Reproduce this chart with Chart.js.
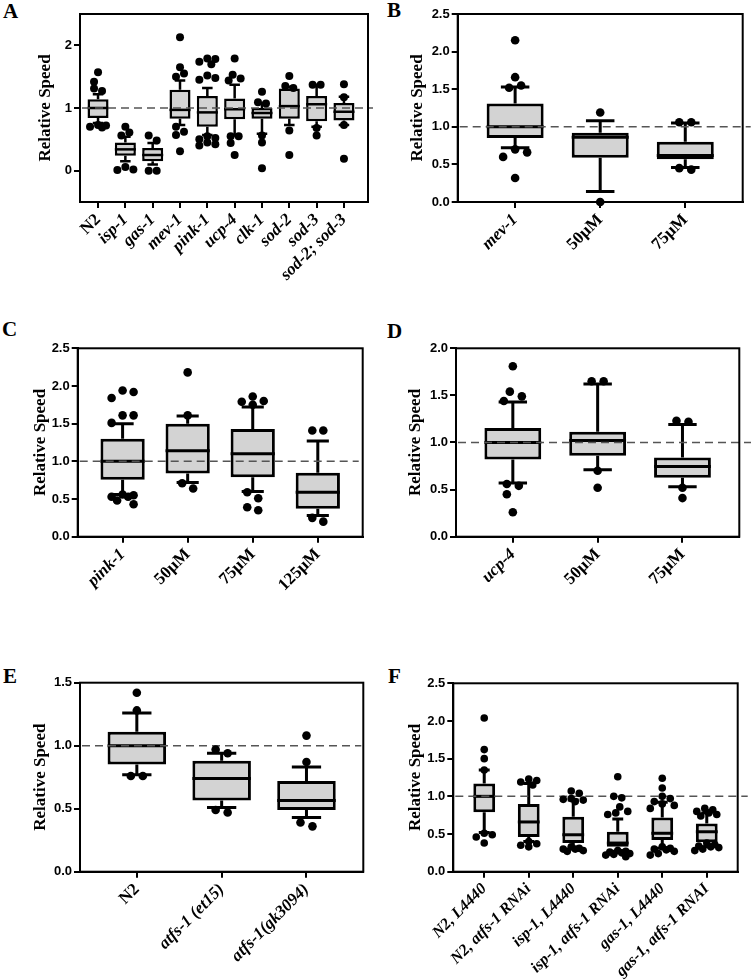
<!DOCTYPE html>
<html>
<head>
<meta charset="utf-8">
<script src="https://cdn.jsdelivr.net/npm/chart.js@4.4.0/dist/chart.umd.min.js"></script>
<style>
  body { margin: 0; background: #fff; width: 751px; height: 980px; position: relative; overflow: hidden; }
  canvas { position: absolute; }
  .lt { position: absolute; font: bold 21px "Liberation Serif"; line-height: 1; color: #000; }
</style>
</head>
<body>

<div class="lt" style="left:3px;top:1px">A</div>
<div class="lt" style="left:387px;top:0px">B</div>
<div class="lt" style="left:2px;top:319px">C</div>
<div class="lt" style="left:387px;top:321px">D</div>
<div class="lt" style="left:3px;top:666px">E</div>
<div class="lt" style="left:388px;top:666px">F</div>

<canvas id="chA"></canvas>
<canvas id="chB"></canvas>
<canvas id="chC"></canvas>
<canvas id="chD"></canvas>
<canvas id="chE"></canvas>
<canvas id="chF"></canvas>

<script>
// ---- data ----
// A
var catsA = ['N2', 'isp-1', 'gas-1', 'mev-1', 'pink-1', 'ucp-4', 'clk-1', 'sod-2', 'sod-3', 'sod-2; sod-3'];
var loA  = [0.76, 0.15, 0.10, 0.73, 0.57, 0.56, 0.59, 0.73, 0.70, 0.73];
var q1A  = [0.84, 0.24, 0.15, 0.83, 0.70, 0.82, 0.83, 0.83, 0.79, 0.80];
var medA = [1.00, 0.34, 0.25, 0.97, 0.93, 0.98, 0.92, 1.03, 1.06, 0.94];
var q3A  = [1.14, 0.45, 0.36, 1.29, 1.19, 1.15, 1.00, 1.31, 1.19, 1.08];
var hiA  = [1.22, 0.54, 0.44, 1.44, 1.32, 1.37, 1.08, 1.34, 1.37, 1.18];
var ptsA = [
  [1.57, 1.42, 1.31, 1.27, 0.73, 0.70, 0.69, 0.72],
  [0.70, 0.61, 0.56, 0.06, 0.02, 0.01],
  [0.56, 0.48, 0.00, 0.00],
  [2.13, 1.65, 1.55, 1.50, 0.70, 0.62, 0.57, 0.31],
  [1.79, 1.74, 1.78, 1.70, 1.52, 1.45, 1.48, 0.55, 0.50, 0.45, 0.40, 0.42, 0.52],
  [1.79, 1.53, 1.47, 1.44, 0.55, 0.55, 0.44, 0.25],
  [1.26, 1.09, 1.07, 0.56, 0.45, 0.04],
  [1.51, 1.35, 1.32, 0.64, 0.25],
  [1.37, 1.37, 0.68, 0.56],
  [1.38, 1.17, 0.73, 0.19]
];
var ticksA = [0, 1, 2];

// B
var catsB = ['mev-1', '50\u00b5M', '75\u00b5M'];
var loB  = [0.72, 0.14, 0.46];
var q1B  = [0.85, 0.59, 0.57];
var medB = [1.00, 0.86, 0.62];
var q3B  = [1.31, 0.92, 0.80];
var hiB  = [1.53, 1.08, 1.05];
var ptsB = [
  [2.15, 1.66, 1.55, 1.52, 0.70, 0.66, 0.60, 0.32],
  [1.19, 0.00],
  [1.06, 1.06, 0.45, 0.43]
];
var ticksB = [0, 0.5, 1, 1.5, 2, 2.5];

// C
var catsC = ['pink-1', '50\u00b5M', '75\u00b5M', '125\u00b5M'];
var loC  = [0.56, 0.72, 0.60, 0.28];
var q1C  = [0.755, 0.84, 0.79, 0.37];
var medC = [1.00, 1.14, 1.10, 0.59];
var q3C  = [1.30, 1.50, 1.43, 0.85];
var hiC  = [1.50, 1.60, 1.72, 1.27];
var ptsC = [
  [1.94, 1.92, 1.84, 1.61, 1.61, 1.51, 0.56, 0.55, 0.53, 0.53, 0.48, 0.43],
  [2.18, 1.61, 0.71, 0.64],
  [1.86, 1.80, 1.79, 1.75, 0.59, 0.51, 0.39, 0.35],
  [1.41, 1.41, 0.25, 0.20]
];
var ticksC = [0, 0.5, 1, 1.5, 2, 2.5];

// D
var catsD = ['ucp-4', '50\u00b5M', '75\u00b5M'];
var loD  = [0.57, 0.71, 0.53];
var q1D  = [0.82, 0.86, 0.625];
var medD = [1.00, 1.02, 0.745];
var q3D  = [1.155, 1.115, 0.84];
var hiD  = [1.43, 1.62, 1.19];
var ptsD = [
  [1.81, 1.54, 1.49, 1.44, 0.56, 0.54, 0.45, 0.26],
  [1.65, 1.65, 0.70, 0.52],
  [1.23, 1.22, 0.52, 0.41]
];
var ticksD = [0, 0.5, 1, 1.5, 2];

// E
var catsE = ['N2', 'atfs-1 (et15)', 'atfs-1(gk3094)'];
var loE  = [0.77, 0.51, 0.43];
var q1E  = [0.85, 0.565, 0.49];
var medE = [1.00, 0.74, 0.565];
var q3E  = [1.11, 0.88, 0.72];
var hiE  = [1.26, 0.94, 0.83];
var ptsE = [
  [1.42, 1.28, 0.76, 0.76],
  [0.97, 0.94, 0.49, 0.47],
  [1.08, 0.87, 0.39, 0.36]
];
var ticksE = [0, 0.5, 1, 1.5];

// F
var catsF = ['N2, L4440', 'N2, atfs-1 RNAi', 'isp-1, L4440', 'isp-1, atfs-1 RNAi', 'gas-1, L4440', 'gas-1, atfs-1 RNAI'];
var loF  = [0.52, 0.40, 0.32, 0.27, 0.31, 0.33];
var q1F  = [0.79, 0.46, 0.38, 0.33, 0.42, 0.39];
var medF = [1.00, 0.66, 0.49, 0.38, 0.51, 0.53];
var q3F  = [1.17, 0.90, 0.73, 0.53, 0.72, 0.64];
var hiF  = [1.35, 1.17, 0.95, 0.70, 0.92, 0.78];
var ptsF = [
  [2.04, 1.62, 1.50, 1.35, 0.51, 0.49, 0.46, 0.38],
  [1.23, 1.21, 1.19, 1.15, 0.40, 0.37, 0.35, 0.33],
  [1.07, 1.04, 0.97, 0.96, 0.95, 0.93, 0.33, 0.31, 0.30, 0.30, 0.28, 0.27],
  [1.26, 1.00, 0.98, 0.86, 0.80, 0.78, 0.76, 0.28, 0.27, 0.26, 0.25, 0.24, 0.23, 0.22, 0.20],
  [1.24, 1.11, 1.00, 0.97, 0.93, 0.90, 0.88, 0.84, 0.33, 0.31, 0.30, 0.29, 0.27, 0.24, 0.22],
  [0.84, 0.82, 0.80, 0.78, 0.76, 0.74, 0.38, 0.36, 0.34, 0.33, 0.32, 0.30, 0.28]
];
var ticksF = [0, 0.5, 1, 1.5, 2, 2.5];

// ---- layout per panel ----
var panels = [
  { id: 'chA', left: 0,   top: 0,   w: 375, h: 320, plot: [80, 14, 368, 202],
    cats: catsA, lo: loA, q1: q1A, med: medA, q3: q3A, hi: hiA, pts: ptsA, yt: ticksA,
    yMin: -0.5, yMax: 2.5, dec: 0, padL: 0.66, padR: 0.88, boxW: 0.77, r: 4, gap: 8, spread: 9, lw: 2.5, ext: 5, tPad: 36,
    fs: 17, ital: [0, 1, 1, 1, 1, 1, 1, 1, 1, 1] },
  { id: 'chB', left: 375, top: 0,   w: 376, h: 320, plot: [82.7, 14, 367.7, 202],
    cats: catsB, lo: loB, q1: q1B, med: medB, q3: q3B, hi: hiB, pts: ptsB, yt: ticksB,
    yMin: 0, yMax: 2.5, dec: 1, padL: 0.675, padR: 0.675, boxW: 0.67, r: 4.3, gap: 12, spread: 16, lw: 3, ext: 8, tPad: 33,
    fs: 17, ital: [1, 0, 0] },
  { id: 'chC', left: 0,   top: 320, w: 375, h: 310, plot: [77.7, 28.3, 362.7, 216.7],
    cats: catsC, lo: loC, q1: q1C, med: medC, q3: q3C, hi: hiC, pts: ptsC, yt: ticksC,
    yMin: 0, yMax: 2.5, dec: 1, padL: 0.69, padR: 0.69, boxW: 0.68, r: 4.3, gap: 11, spread: 14, lw: 3, ext: -4, tPad: 31,
    fs: 17, ital: [1, 0, 0, 0] },
  { id: 'chD', left: 375, top: 320, w: 376, h: 310, plot: [81, 28.3, 364.3, 216.7],
    cats: catsD, lo: loD, q1: q1D, med: medD, q3: q3D, hi: hiD, pts: ptsD, yt: ticksD,
    yMin: 0, yMax: 2, dec: 1, padL: 0.67, padR: 0.67, boxW: 0.67, r: 4.3, gap: 12, spread: 16, lw: 3, ext: 12, tPad: 31,
    fs: 17, ital: [1, 0, 0] },
  { id: 'chE', left: 0,   top: 630, w: 375, h: 350, plot: [80, 52.7, 363.3, 241.7],
    cats: catsE, lo: loE, q1: q1E, med: medE, q3: q3E, hi: hiE, pts: ptsE, yt: ticksE,
    yMin: 0, yMax: 1.5, dec: 1, padL: 0.67, padR: 0.67, boxW: 0.69, r: 4.3, gap: 12, spread: 16, lw: 3, ext: -2, tPad: 31,
    fs: 17, ital: [0, 1, 1] },
  { id: 'chF', left: 375, top: 630, w: 376, h: 350, plot: [78.3, 53.3, 362.7, 241.7],
    cats: catsF, lo: loF, q1: q1F, med: medF, q3: q3F, hi: hiF, pts: ptsF, yt: ticksF,
    yMin: 0, yMax: 2.5, dec: 1, padL: 0.695, padR: 0.695, boxW: 0.49, r: 3.8, gap: 8, spread: 12, lw: 3, ext: 10, tPad: 31,
    fs: 16, ital: [1, 1, 1, 1, 1, 1] }
];

// spread points that would overlap sideways (prism-like dot layout), staying within a limit
function swarm(vals, ci, pxX, pxY, gap, limit) {
  var sorted = vals.slice().sort(function (a, b) { return b - a; });
  var out = [], cluster = [];
  var cands = [0];
  for (var k = 1; k * gap / 2 <= limit; k++) { cands.push(k * gap / 2, -k * gap / 2); }
  function flush() {
    if (!cluster.length) return;
    var placed = [];
    cluster.forEach(function (v) {
      var best = 0, bestD = -1;
      for (var c = 0; c < cands.length; c++) {
        var dmin = Infinity;
        placed.forEach(function (q) {
          var dx = cands[c] - q.dx, dy = (v - q.v) * pxY;
          dmin = Math.min(dmin, Math.sqrt(dx * dx + dy * dy));
        });
        if (dmin >= gap * 0.85) { best = cands[c]; bestD = Infinity; break; }
        if (dmin > bestD) { bestD = dmin; best = cands[c]; }
      }
      placed.push({ v: v, dx: best });
    });
    var xs = placed.map(function (q) { return q.dx; });
    var shift = (Math.min.apply(null, xs) + Math.max.apply(null, xs)) / 2;
    placed.forEach(function (q) { out.push({ x: ci + (q.dx - shift) / pxX, y: q.v }); });
    cluster = [];
  }
  sorted.forEach(function (v, k) {
    if (k > 0 && (sorted[k - 1] - v) * pxY >= gap) flush();
    cluster.push(v);
  });
  flush();
  return out;
}

function boxPlugin(p) {
  return {
    id: 'boxes',
    beforeDatasetDraw: function (chart, args) {
      if (args.index !== 0) return;
      var y = chart.scales.y, ctx = chart.ctx;
      ctx.save();
      ctx.strokeStyle = '#000';
      ctx.lineWidth = p.lw;
      args.meta.data.forEach(function (bar, i) {
        var b = bar.getProps(['x', 'width'], true);
        var cap = b.width * 0.25;
        var yLo = y.getPixelForValue(p.lo[i]), yHi = y.getPixelForValue(p.hi[i]);
        var y1 = y.getPixelForValue(p.q1[i]), y3 = y.getPixelForValue(p.q3[i]);
        ctx.beginPath();
        ctx.moveTo(b.x, y3); ctx.lineTo(b.x, yHi);
        ctx.moveTo(b.x - cap, yHi); ctx.lineTo(b.x + cap, yHi);
        ctx.moveTo(b.x, y1); ctx.lineTo(b.x, yLo);
        ctx.moveTo(b.x - cap, yLo); ctx.lineTo(b.x + cap, yLo);
        ctx.stroke();
      });
      ctx.restore();
    },
    afterDatasetDraw: function (chart, args) {
      if (args.index !== 0) return;
      var y = chart.scales.y, ctx = chart.ctx, a = chart.chartArea;
      ctx.save();
      ctx.strokeStyle = '#000';
      ctx.lineWidth = p.lw;
      args.meta.data.forEach(function (bar, i) {
        var b = bar.getProps(['x', 'width'], true);
        var ym = y.getPixelForValue(p.med[i]);
        ctx.beginPath();
        ctx.moveTo(b.x - b.width / 2, ym); ctx.lineTo(b.x + b.width / 2, ym);
        ctx.stroke();
      });
      // reference line at 1.0
      var y1 = y.getPixelForValue(1);
      ctx.strokeStyle = '#555';
      ctx.lineWidth = 1.5;
      ctx.setLineDash([8, 5]);
      ctx.beginPath();
      ctx.moveTo(a.left + 2, y1); ctx.lineTo(a.right + p.ext, y1);
      ctx.stroke();
      ctx.restore();
    },
    afterDraw: function (chart) {
      var a = chart.chartArea, ctx = chart.ctx;
      ctx.save();
      ctx.strokeStyle = '#000';
      ctx.lineWidth = 2;
      ctx.strokeRect(a.left, a.top, a.right - a.left, a.bottom - a.top);
      ctx.restore();
    }
  };
}

Chart.defaults.color = '#000';

panels.forEach(function (p) {
  var cv = document.getElementById(p.id);
  cv.width = p.w; cv.height = p.h;
  cv.style.left = p.left + 'px'; cv.style.top = p.top + 'px';
  cv.style.width = p.w + 'px'; cv.style.height = p.h + 'px';

  var xMin = -p.padL, xMax = p.cats.length - 1 + p.padR;
  var pxX = (p.plot[2] - p.plot[0]) / (xMax - xMin);
  var pxY = (p.plot[3] - p.plot[1]) / (p.yMax - p.yMin);

  var boxes = p.cats.map(function (c, i) { return { x: i, y: [p.q1[i], p.q3[i]] }; });
  var dots = [];
  p.pts.forEach(function (vals, i) { dots = dots.concat(swarm(vals, i, pxX, pxY, p.gap, p.spread)); });

  new Chart(cv.getContext('2d'), {
    type: 'bar',
    data: {
      datasets: [{
        type: 'bar',
        data: boxes,
        backgroundColor: '#d3d3d3',
        borderColor: '#000',
        borderWidth: p.lw,
        borderSkipped: false,
        barPercentage: p.boxW,
        categoryPercentage: 1,
        order: 1
      }, {
        type: 'scatter',
        data: dots,
        pointRadius: p.r,
        pointBackgroundColor: '#000',
        pointBorderWidth: 0,
        clip: false,
        order: 0
      }]
    },
    options: {
      responsive: false,
      animation: false,
      events: [],
      layout: { padding: { left: 0, top: p.plot[1], right: p.w - p.plot[2], bottom: 0 } },
      plugins: { legend: { display: false }, tooltip: { enabled: false } },
      scales: {
        x: {
          type: 'linear',
          offset: false,
          min: xMin,
          max: xMax,
          afterBuildTicks: function (s) { s.ticks = p.cats.map(function (c, i) { return { value: i }; }); },
          afterFit: function (s) { s.height = p.h - p.plot[3]; },
          border: { display: true, color: '#000', width: 2 },
          grid: { display: true, offset: false, drawOnChartArea: false, drawTicks: true, tickLength: 6, color: '#000', lineWidth: 2 },
          ticks: {
            autoSkip: false,
            minRotation: 45,
            maxRotation: 45,
            padding: 2,
            color: '#000',
            font: function (ctx) {
              return { family: '"Liberation Serif"', size: p.fs, weight: 'bold', style: p.ital[ctx.index] ? 'italic' : 'normal' };
            },
            callback: function (v) { return p.cats[v]; }
          }
        },
        y: {
          min: p.yMin,
          max: p.yMax,
          afterBuildTicks: function (s) { s.ticks = p.yt.map(function (v) { return { value: v }; }); },
          afterFit: function (s) { s.width = p.plot[0]; },
          border: { display: true, color: '#000', width: 2 },
          grid: { display: true, drawOnChartArea: false, drawTicks: true, tickLength: 6, color: '#000', lineWidth: 2 },
          title: {
            display: true,
            text: 'Relative Speed',
            color: '#000',
            font: { family: '"Liberation Serif"', size: 17, weight: 'bold' },
            padding: { top: p.tPad - 1, bottom: 4 }
          },
          ticks: {
            padding: 2,
            color: '#000',
            font: { family: '"Liberation Sans"', size: 13, weight: 'bold' },
            callback: function (v) { return v.toFixed(p.dec); }
          }
        }
      }
    },
    plugins: [boxPlugin(p)]
  });
});
</script>
</body>
</html>
